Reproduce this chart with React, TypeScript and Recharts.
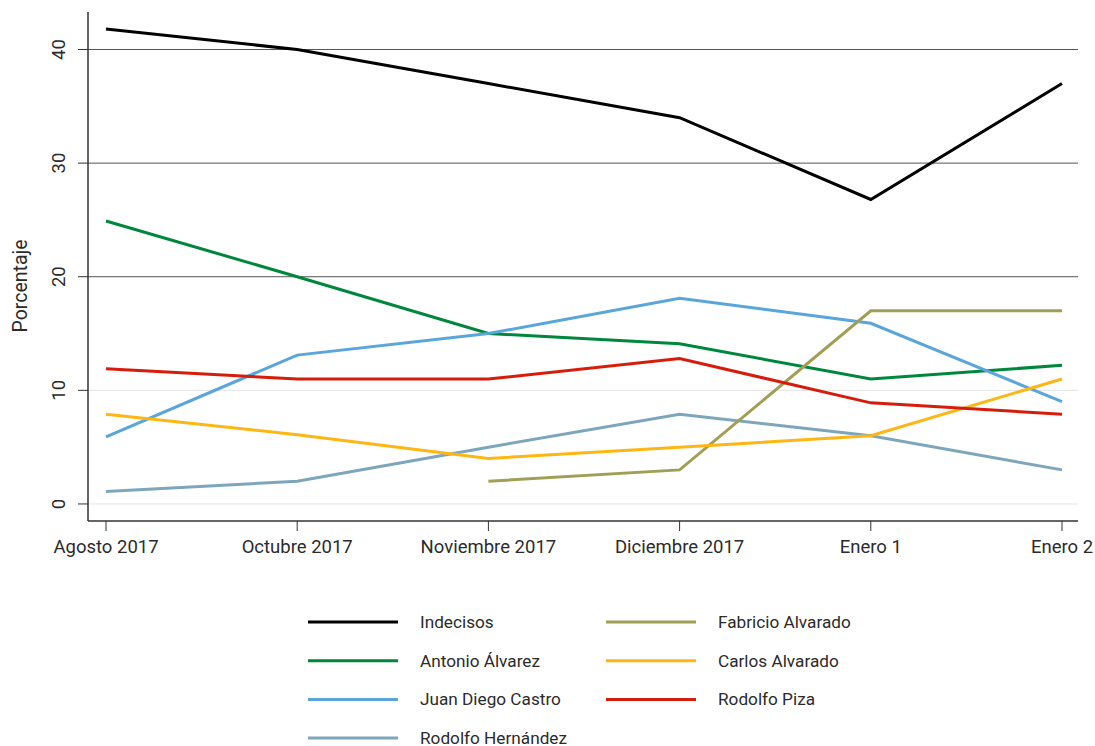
import React from 'react';
import { LineChart, Line, XAxis, YAxis, ReferenceLine } from 'recharts';

const periods = ['Agosto 2017', 'Octubre 2017', 'Noviembre 2017', 'Diciembre 2017', 'Enero 1', 'Enero 2'];
const indecisos = [41.8, 40, 37, 34, 26.8, 37];
const antonioAlvarez = [24.9, 20, 15, 14.1, 11, 12.2];
const juanDiegoCastro = [5.9, 13.1, 15, 18.1, 15.9, 9];
const rodolfoHernandez = [1.1, 2, 5, 7.9, 6, 3];
const fabricioAlvarado: (number | null)[] = [null, null, 2, 3, 17, 17];
const carlosAlvarado = [7.9, 6.1, 4, 5, 6, 11];
const rodolfoPiza = [11.9, 11, 11, 12.8, 8.9, 7.9];
const yTicks = [0, 10, 20, 30, 40];

const series = [
  { key: 'indecisos', name: 'Indecisos', values: indecisos, color: '#000000' },
  { key: 'antonio', name: 'Antonio Álvarez', values: antonioAlvarez, color: '#00873d' },
  { key: 'juan', name: 'Juan Diego Castro', values: juanDiegoCastro, color: '#5aa5da' },
  { key: 'hernandez', name: 'Rodolfo Hernández', values: rodolfoHernandez, color: '#7ea6bb' },
  { key: 'fabricio', name: 'Fabricio Alvarado', values: fabricioAlvarado, color: '#a19f56' },
  { key: 'carlos', name: 'Carlos Alvarado', values: carlosAlvarado, color: '#fdb714' },
  { key: 'piza', name: 'Rodolfo Piza', values: rodolfoPiza, color: '#d61d0b' },
];

const data = periods.map((p, i) => {
  const row: any = { period: p };
  series.forEach((s) => { row[s.key] = s.values[i]; });
  return row;
});

const FONT = 'Roboto, "DejaVu Sans", sans-serif';
const TXT = '#2b2b2b';

const renderYTick = (props: any) => {
  const { y, payload } = props;
  const cx = 59;
  return (
    <g transform={`translate(${cx}, ${y}) rotate(-90)`}>
      <text x={0} y={0} textAnchor="middle" dy="0.35em"
        fontSize={18.5} fontFamily={FONT} fill={TXT}>{payload.value}</text>
    </g>
  );
};

const legendCols = [[0, 1, 2, 3], [4, 5, 6]];

export default function App() {
  return (
    <div style={{ position: 'absolute', left: 0, top: 0, width: 1095, height: 746, background: '#fff' }}>
      <LineChart width={1095} height={746} data={data} margin={{ top: 12, right: 17, bottom: 0, left: 0 }}>
        <XAxis dataKey="period" padding={{ left: 18, right: 16 }} height={225}
          tickSize={10} tickMargin={9} axisLine={{ stroke: '#333', strokeWidth: 1.5 }}
          tickLine={{ stroke: '#333' }} interval={0}
          tick={{ fontSize: 18.5, fontFamily: FONT, fill: TXT }} />
        <YAxis type="number" domain={[-1.5, 43.3]} ticks={yTicks} width={88} tickSize={10}
          axisLine={{ stroke: '#333', strokeWidth: 1.5 }} tickLine={{ stroke: '#333' }}
          tick={renderYTick} />
        {yTicks.map((t) => (
          <ReferenceLine key={t} y={t} stroke={t >= 20 ? '#555' : '#e3e3e3'} strokeWidth={1} />
        ))}
        {series.map((s) => (
          <Line key={s.key} dataKey={s.key} name={s.name} stroke={s.color} strokeWidth={3}
            dot={false} activeDot={false} type="linear" isAnimationActive={false} connectNulls={false} />
        ))}
      </LineChart>
      <svg style={{ position: 'absolute', left: 0, top: 0 }} width={1095} height={746}>
        <text x={20} y={286} transform="rotate(-90 20 286)" textAnchor="middle" dy="0.35em"
          fontSize={19.5} fontFamily={FONT} fill={TXT}>Porcentaje</text>
        {legendCols.map((col, ci) => col.map((si, ri) => {
          const s = series[si];
          const x0 = ci === 0 ? 308 : 606;
          const y = 622 + ri * 38.7;
          return (
            <g key={s.key}>
              <line x1={x0} x2={x0 + 90} y1={y} y2={y} stroke={s.color} strokeWidth={3} />
              <text x={x0 + 112} y={y} dy="0.35em" fontSize={17.2} fontFamily={FONT} fill={TXT}>{s.name}</text>
            </g>
          );
        }))}
      </svg>
    </div>
  );
}
